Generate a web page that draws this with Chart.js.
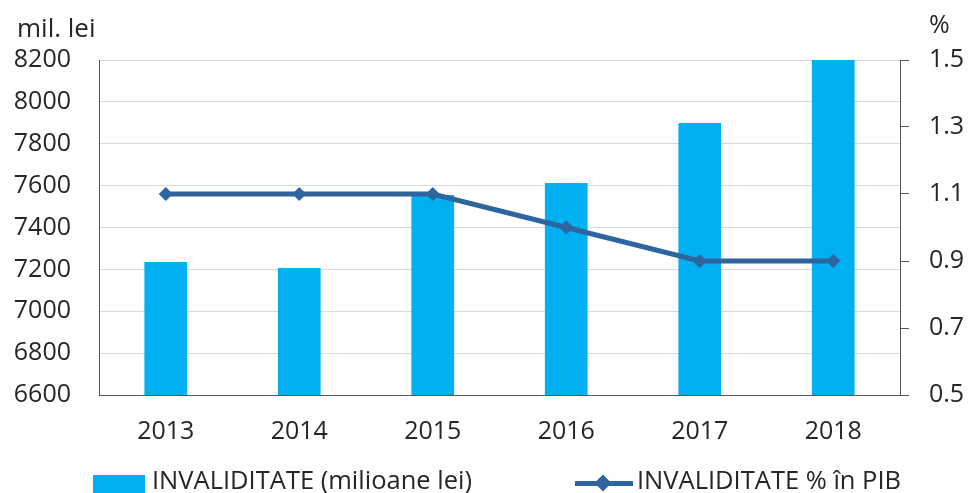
<!DOCTYPE html>
<html>
<head>
<meta charset="utf-8">
<script src="https://cdn.jsdelivr.net/npm/chart.js@4.4.1/dist/chart.umd.min.js"></script>
<style>
  body { margin: 0; background: #fff; }
  #wrap { position: relative; width: 968px; height: 493px; overflow: hidden; font-family: "Open Sans", sans-serif; color: #262626; }
  .lbl { position: absolute; font-size: 25.5px; white-space: nowrap; line-height: 1; }
  .box { position: absolute; background: #00B0F0; }
  .ln { position: absolute; background: #2E659E; }
  .dia { position: absolute; width: 12px; height: 12px; background: #2E659E; transform: rotate(45deg); }
</style>
</head>
<body>
<div id="wrap">
  <canvas id="myChart"></canvas>
  <div class="lbl" style="left:17px; top:14px; font-size:26px;">mil. lei</div>
  <div class="lbl" style="left:929px; top:11px; font-size:25px;">%</div>
  <div class="box" style="left:93px; top:475px; width:52px; height:20px;"></div>
  <div class="lbl" style="left:152px; top:467px;">INVALIDITATE (milioane lei)</div>
  <div class="ln" style="left:575px; top:481px; width:58px; height:5px;"></div>
  <div class="dia" style="left:597px; top:477px;"></div>
  <div class="lbl" style="left:637px; top:467px;">INVALIDITATE % în PIB</div>
</div>
<script>
var years = ["2013", "2014", "2015", "2016", "2017", "2018"];
var amounts = [7235, 7207, 7555, 7613, 7899, 8200];
var pctGdp = [1.1, 1.1, 1.1, 1.0, 0.9, 0.9];

var txt = "#262626";
var fnt = {family: "Open Sans", size: 25};

new Chart("myChart", {
  data: {
    labels: years,
    datasets: [{
      type: "line",
      label: "INVALIDITATE % în PIB",
      data: pctGdp,
      yAxisID: "y1",
      borderColor: "#2E659E",
      backgroundColor: "#2E659E",
      borderWidth: 5,
      pointStyle: "rectRot",
      pointRadius: 7,
      pointBackgroundColor: "#2E659E",
      pointBorderWidth: 0,
      order: 0
    }, {
      type: "bar",
      label: "INVALIDITATE (milioane lei)",
      data: amounts,
      yAxisID: "y",
      backgroundColor: "#00B0F0",
      categoryPercentage: 1,
      barPercentage: 0.32,
      order: 1
    }]
  },
  options: {
    responsive: true,
    maintainAspectRatio: false,
    animation: false,
    layout: {padding: {top: 60, bottom: 38, left: 0, right: 0}},
    plugins: {legend: {display: false}, tooltip: {enabled: false}},
    scales: {
      x: {
        grid: {display: false, drawTicks: false},
        border: {color: "#595959"},
        ticks: {color: txt, font: fnt, padding: 22, maxRotation: 0},
        afterFit: function(s) { s.height = 60; }
      },
      y: {
        position: "left",
        min: 6600, max: 8200,
        grid: {color: "#d9d9d9", drawTicks: false},
        border: {color: "#595959"},
        ticks: {stepSize: 200, color: txt, font: fnt, padding: 28,
          callback: function(v) { return String(v); }},
        afterFit: function(s) { s.width = 99; }
      },
      y1: {
        position: "right",
        min: 0.5, max: 1.5,
        grid: {drawOnChartArea: false, drawTicks: true, tickLength: 9, color: "#595959"},
        border: {color: "#595959"},
        ticks: {stepSize: 0.2, color: txt, font: fnt, padding: 20,
          callback: function(v) { return v.toFixed(1); }},
        afterFit: function(s) { s.width = 68; }
      }
    }
  }
});
</script>
</body>
</html>
